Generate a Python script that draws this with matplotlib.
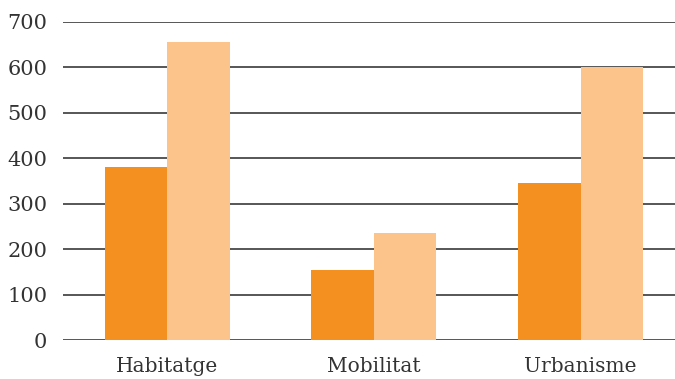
import matplotlib.pyplot as plt
import numpy as np

categories = ['Habitatge', 'Mobilitat', 'Urbanisme']
series_dark = [380, 155, 345]
series_light = [655, 236, 600]
yticks = [0, 100, 200, 300, 400, 500, 600, 700]

plt.rcParams['font.family'] = ['DejaVu Serif']

fig = plt.figure(figsize=(6.75, 3.79), dpi=100)
ax = fig.add_axes([0.093, 0.1016, 0.907, 0.8411])

x = np.arange(len(categories))
w = 0.302
ax.bar(x - w / 2, series_dark, w, color='#F39020', zorder=3)
ax.bar(x + w / 2, series_light, w, color='#FCC38A', zorder=3)

ax.set_ylim(0, 700)
ax.set_xlim(-0.505, 2.457)
ax.set_yticks(yticks)
ax.set_xticks(x)
ax.set_xticklabels(categories)
ax.yaxis.grid(True, color='#3a3a3a', linewidth=1.2, zorder=0)
ax.set_axisbelow(True)

for s in ax.spines.values():
    s.set_visible(False)

ax.tick_params(axis='y', length=0, pad=11, labelsize=15, labelcolor='#333333')
ax.tick_params(axis='x', length=0, pad=12, labelsize=14.5, labelcolor='#333333')

fig.savefig('out.png', dpi=100)
